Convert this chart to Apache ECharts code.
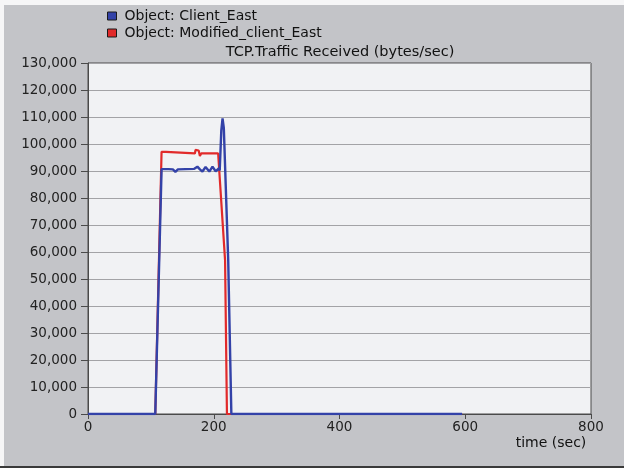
<!DOCTYPE html>
<html>
<head>
<meta charset="utf-8">
<script src="https://cdn.jsdelivr.net/npm/echarts@6/dist/echarts.min.js"></script>
<style>
html,body{margin:0;padding:0;background:#ffffff;}
#c{width:624px;height:468px;}
</style>
</head>
<body>
<div id="c"></div>
<script>
// ---- data ----
var seriesNames = ['Object: Client_East', 'Object: Modified_client_East'];
var chartTitle = 'TCP.Traffic Received (bytes/sec)';
var xAxisName = 'time (sec)';
var xTicks = [0, 200, 400, 600, 800];
var yTicks = [0, 10000, 20000, 30000, 40000, 50000, 60000, 70000, 80000, 90000, 100000, 110000, 120000, 130000];

var clientEastTime  = [0, 107, 117, 128, 135, 139, 143, 155, 169, 174, 178, 182, 187, 193, 198, 203, 208, 209.5, 212, 214, 216, 223, 228, 595];
var clientEastValue = [0, 0, 90700, 90700, 90600, 89700, 90600, 90700, 90800, 91600, 90600, 89800, 91500, 89800, 91600, 89900, 91000, 90200, 105000, 109500, 106000, 57000, 0, 0];

var modifiedTime  = [0, 107, 117, 124, 126, 170, 171, 176, 178, 180, 207, 218, 221, 595];
var modifiedValue = [0, 0, 97100, 97100, 96500, 96500, 97800, 97600, 95600, 96500, 96500, 57000, 0, 0];

function pairs(t, v) { var out = []; for (var i = 0; i < t.length; i++) out.push([t[i], v[i]]); return out; }

var FONT = 'DejaVu Sans';
var chart = echarts.init(document.getElementById('c'), null, {renderer: 'canvas'});
chart.setOption({
  animation: false,
  backgroundColor: '#c3c4c8',
  textStyle: {fontFamily: FONT},
  legend: {
    orient: 'vertical', left: 107, top: 8, padding: 0,
    data: seriesNames,
    icon: 'rect', itemWidth: 9, itemHeight: 8, itemGap: 1,
    itemStyle: {borderColor: '#1a1a1a', borderWidth: 1},
    textStyle: {fontFamily: FONT, fontSize: 14, lineHeight: 16, color: '#111', padding: [0, 0, 0, 3]}
  },
  grid: {left: 88, right: 33, top: 63, bottom: 54, show: true, backgroundColor: '#f1f2f4', borderColor: '#4a4a4a', borderWidth: 1},
  xAxis: {
    type: 'value', min: xTicks[0], max: xTicks[xTicks.length - 1], interval: 200,
    axisLine: {show: true, lineStyle: {color: '#4a4a4a'}},
    axisTick: {show: true, length: 5, lineStyle: {color: '#4a4a4a'}},
    axisLabel: {fontFamily: FONT, fontSize: 13.5, color: '#222', margin: 6},
    splitLine: {show: false}
  },
  yAxis: {
    type: 'value', min: yTicks[0], max: yTicks[yTicks.length - 1], interval: 10000,
    axisLine: {show: true, lineStyle: {color: '#4a4a4a'}},
    axisTick: {show: true, length: 7, lineStyle: {color: '#4a4a4a'}},
    axisLabel: {fontFamily: FONT, fontSize: 13.5, color: '#222', margin: 11,
      formatter: function (v) { return v.toLocaleString('en-US'); }},
    splitLine: {show: true, lineStyle: {color: '#a3a3a6', width: 1}}
  },
  graphic: [
    {type: 'rect', shape: {x: 0, y: 0, width: 624, height: 5}, style: {fill: '#f6f6f7'}, z: 10},
    {type: 'rect', shape: {x: 0, y: 0, width: 4, height: 468}, style: {fill: '#f6f6f7'}, z: 10},
    {type: 'rect', shape: {x: 0, y: 466, width: 624, height: 2}, style: {fill: '#3a3a3a'}, z: 10},
    {type: 'text', x: 340, y: 52, style: {text: chartTitle, fontFamily: FONT, fontSize: 14.5, fill: '#111', textAlign: 'center', textVerticalAlign: 'middle'}, z: 10},
    {type: 'text', x: 551, y: 443, style: {text: xAxisName, fontFamily: FONT, fontSize: 14, fill: '#111', textAlign: 'center', textVerticalAlign: 'middle'}, z: 10}
  ],
  series: [
    {name: seriesNames[0], type: 'line', data: pairs(clientEastTime, clientEastValue), showSymbol: false, smooth: false,
     color: '#3342a8', lineStyle: {width: 2.4, color: '#3342a8'}, z: 4},
    {name: seriesNames[1], type: 'line', data: pairs(modifiedTime, modifiedValue), showSymbol: false, smooth: false,
     color: '#e12a2a', lineStyle: {width: 2.2, color: '#e12a2a'}, z: 3}
  ]
});
</script>
</body>
</html>
